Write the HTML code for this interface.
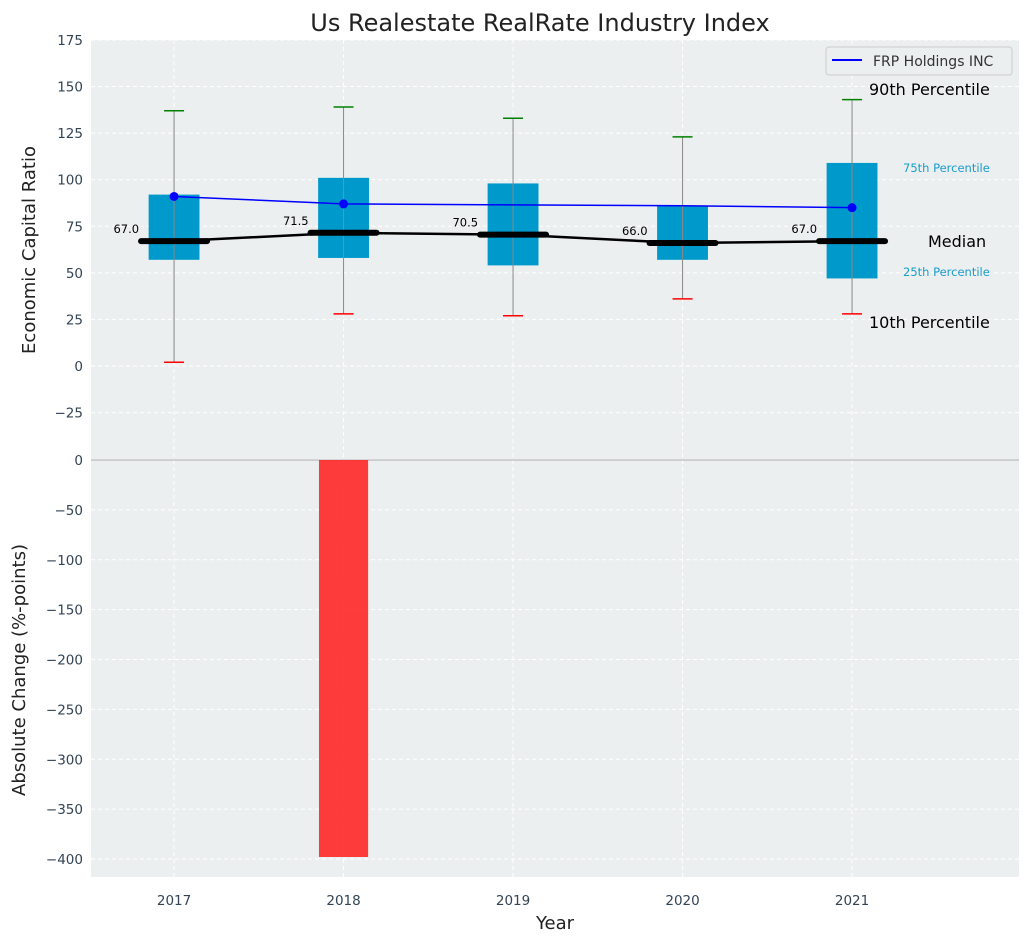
<!DOCTYPE html>
<html><head><meta charset="utf-8"><style>
body{margin:0;background:#fff;font-family:"Liberation Sans","DejaVu Sans",sans-serif}
</style></head><body>
<svg id="c" width="1029" height="942" xmlns="http://www.w3.org/2000/svg" font-family="DejaVu Sans, Liberation Sans, sans-serif"></svg>
<script>
const years=[2017,2018,2019,2020,2021];
const q1=[57,58,54,57,47];
const q3=[92,101,98,86,109];
const p10=[2,28,27,36,28];
const p90=[137,139,133,123,143];
const medians=[67,71.5,70.5,66,67];
const medianLabels=["67.0","71.5","70.5","66.0","67.0"];
const company=[91,87,86.5,86,85];
const companyMarkers=[true,true,false,false,true];
const change=[0,-398,0,0,0];
const topTicks=[-25,0,25,50,75,100,125,150,175];
const botTicks=[0,-50,-100,-150,-200,-250,-300,-350,-400];

const svg=document.getElementById('c');const NS='http://www.w3.org/2000/svg';
function el(t,a,p){const e=document.createElementNS(NS,t);for(const k in a)e.setAttribute(k,a[k]);(p||svg).appendChild(e);return e;}
const fmt=v=>v<0?'\u2212'+Math.abs(v):String(v);
const L=91,R=1019;
const x=v=>L+(v-2016.51)/(2021.985-2016.51)*(R-L);
const yT=v=>366-v*1.863;
const yB=v=>460-v*0.9975;
let bg=el('rect',{x:L,y:40,width:R-L,height:419,fill:'#ebeff0'});


let bg2=el('rect',{x:L,y:460,width:R-L,height:417,fill:'#ebeff0'});


years.forEach(v=>{el('line',{x1:x(v),x2:x(v),y1:40,y2:877,stroke:'#fff','stroke-dasharray':'4,3'});
 let t=el('text',{x:x(v),y:905,'font-size':13.5,fill:'#334455','text-anchor':'middle'});t.textContent=v;
 });
topTicks.forEach(v=>{el('line',{x1:L,x2:R,y1:yT(v),y2:yT(v),stroke:'#fff','stroke-dasharray':'4,3'});
 let t=el('text',{x:83,y:yT(v)+5,'font-size':13.5,fill:'#334455','text-anchor':'end'});t.textContent=fmt(v);
 });
botTicks.forEach(v=>{el('line',{x1:L,x2:R,y1:yB(v),y2:yB(v),stroke:'#fff','stroke-dasharray':'4,3'});
 let t=el('text',{x:83,y:yB(v)+5,'font-size':13.5,fill:'#334455','text-anchor':'end'});t.textContent=fmt(v);
 });
el('line',{x1:L,x2:R,y1:yB(0),y2:yB(0),stroke:'#aaa','stroke-width':1});
years.forEach((v,i)=>{
 let b=el('rect',{x:x(v)-0.15*169.5,y:yT(q3[i]),width:0.3*169.5,height:yT(q1[i])-yT(q3[i]),fill:'#0099cc'});
 
 el('line',{x1:x(v),x2:x(v),y1:yT(p90[i]),y2:yT(p10[i]),stroke:'#888','stroke-width':1});
 el('line',{x1:x(v)-10,x2:x(v)+10,y1:yT(p90[i]),y2:yT(p90[i]),stroke:'green','stroke-width':1.5});
 el('line',{x1:x(v)-10,x2:x(v)+10,y1:yT(p10[i]),y2:yT(p10[i]),stroke:'red','stroke-width':1.5});
});
el('polyline',{points:years.map((v,i)=>x(v)+','+yT(medians[i])).join(' '),fill:'none',stroke:'#000','stroke-width':2.5});
years.forEach((v,i)=>{
 let m=el('line',{x1:x(v)-33,x2:x(v)+33,y1:yT(medians[i]),y2:yT(medians[i]),stroke:'#000','stroke-width':6,'stroke-linecap':'round'});
 
 let t=el('text',{x:x(v)-35,y:yT(medians[i])-8,'font-size':11.5,fill:'#000','text-anchor':'end'});t.textContent=medianLabels[i];
 
});
let cl=el('polyline',{points:years.map((v,i)=>x(v)+','+yT(company[i])).join(' '),fill:'none',stroke:'blue','stroke-width':1.5});

years.forEach((v,i)=>{if(companyMarkers[i]){let c=el('circle',{cx:x(v),cy:yT(company[i]),r:4.5,fill:'blue'});
 }});
years.forEach((v,i)=>{if(change[i]!==0){const y0=yB(0),y1=yB(change[i]);
 let b=el('rect',{x:x(v)-0.145*169.5,y:Math.min(y0,y1),width:0.29*169.5,height:Math.abs(y1-y0),fill:'#ff2020','fill-opacity':0.87});
 }});
function txt(s,a,name){let t=el('text',a);t.textContent=s;return t;}
txt('90th Percentile',{x:869,y:95,'font-size':16,fill:'#000'},'label-90th');
txt('75th Percentile',{x:903,y:172,'font-size':11.5,fill:'#1a9ccc'},'label-75th');
txt('Median',{x:928,y:247,'font-size':16,fill:'#000'},'label-median');
txt('25th Percentile',{x:903,y:276,'font-size':11.5,fill:'#1a9ccc'},'label-25th');
txt('10th Percentile',{x:869,y:328,'font-size':16,fill:'#000'},'label-10th');
let lg=el('rect',{x:826,y:47,width:186,height:28,rx:3,fill:'#ebeff0',stroke:'#ccc'});

el('line',{x1:832,x2:862,y1:60,y2:60,stroke:'blue','stroke-width':2});
txt('FRP Holdings INC',{x:873,y:66,'font-size':14,fill:'#333'},'legend-entry');
txt('Us Realestate RealRate Industry Index',{x:540,y:31,'font-size':24,fill:'#222','text-anchor':'middle'},'chart-title');
txt('Year',{x:555,y:929,'font-size':18,fill:'#222','text-anchor':'middle'},'x-axis-title');
txt('Economic Capital Ratio',{x:0,y:0,'font-size':18,fill:'#222','text-anchor':'middle',transform:'translate(35,250) rotate(-90)'},'top-y-axis-title');
txt('Absolute Change (%-points)',{x:0,y:0,'font-size':18,fill:'#222','text-anchor':'middle',transform:'translate(25,670) rotate(-90)'},'bottom-y-axis-title');
</script>
</body></html>
